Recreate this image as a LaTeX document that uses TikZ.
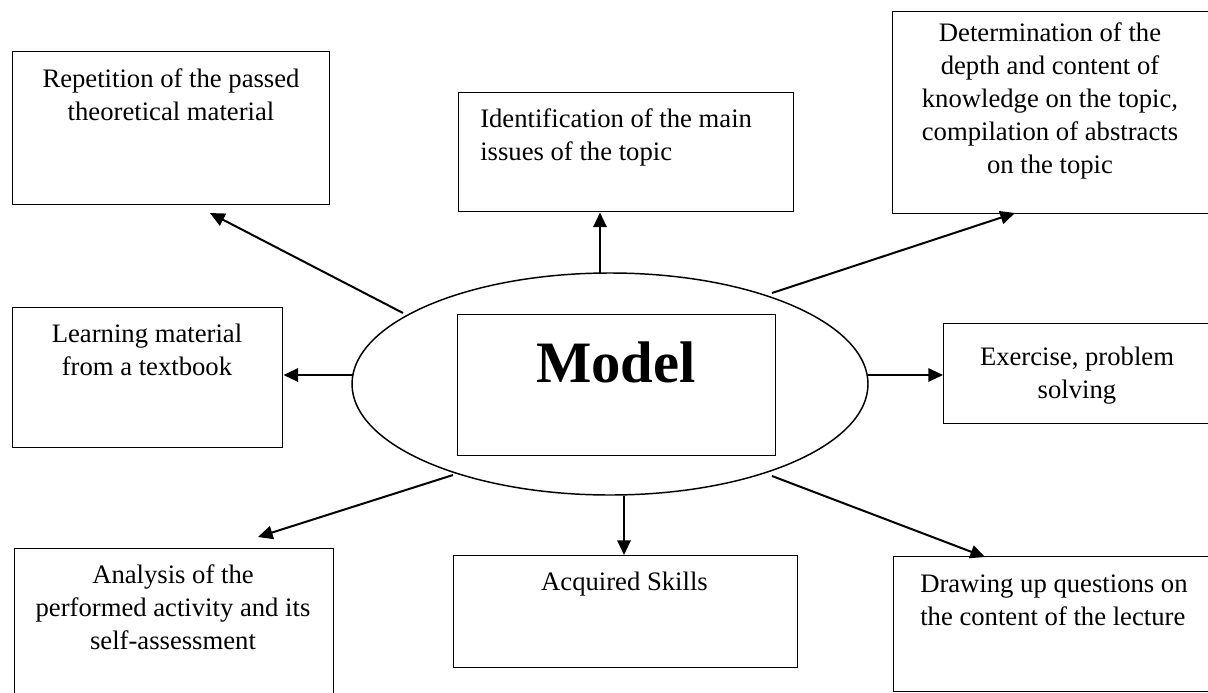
\documentclass[tikz,border=0pt]{standalone}
\usepackage{fontspec}
\setmainfont{Liberation Serif}
\usetikzlibrary{arrows.meta,shapes.geometric}
\begin{document}
\begin{tikzpicture}[x=0.75pt,y=-0.75pt,
  box/.style 2 args={draw, line width=1.1pt, inner sep=0pt, anchor=north west,
    minimum width=#1*0.75pt, minimum height=#2*0.75pt},
  txt/.style={inner sep=0pt, anchor=north, font=\fontsize{20}{24.75}\selectfont, align=center},
  ltxt/.style={inner sep=0pt, anchor=north west, font=\fontsize{20}{24.75}\selectfont, align=left},
  arr/.style={line width=1.5pt, -{Triangle[length=11pt,width=10pt]}}]
\clip (0,0) rectangle (1208,693);
% boxes
\node[box={317}{153}] (b1) at (12,51) {};
\node[box={335}{119}] (b2) at (458,92) {};
\node[box={320}{202}] (b3) at (892,11) {};
\node[box={270}{140}] (b4) at (12,307) {};
\node[box={270}{100}] (b5) at (943,323) {};
\node[box={319}{160}] (b6) at (14,548) {};
\node[box={344}{112}] (b7) at (453,555) {};
\node[box={320}{135}] (b8) at (893,556) {};
% texts
\node[txt] (t1) at (171,67) {\rule{0pt}{15pt}Repetition of the passed\\theoretical material};
\node[ltxt] (t2) at (480,107) {\rule{0pt}{15pt}Identification of the main\\issues of the topic};
\node[txt] (t3) at (1050,21) {\rule{0pt}{15pt}Determination of the\\depth and content of\\knowledge on the topic,\\compilation of abstracts\\on the topic};
\node[txt] (t4) at (147,322) {\rule{0pt}{15pt}Learning material\\from a textbook};
\node[txt] (t5) at (1077,345) {\rule{0pt}{15pt}Exercise, problem\\solving};
\node[txt] (t6) at (173,563) {\rule{0pt}{15pt}Analysis of the\\performed activity and its\\self-assessment};
\node[txt] (t7) at (624.5,570) {\rule{0pt}{15pt}Acquired Skills};
\node[ltxt] (t8) at (920,572) {\rule{0pt}{15pt}Drawing up questions on\\the content of the lecture};
% centre
\node[draw, ellipse, line width=1.1pt, minimum width=516*0.75pt, minimum height=222*0.75pt, inner sep=0pt] (ell) at (610,384) {};
\node[draw, line width=1.1pt, inner sep=0pt, anchor=north west, minimum width=318*0.75pt, minimum height=141*0.75pt] (mb) at (457,314) {};
\node[inner sep=0pt, anchor=base, font=\fontsize{44}{50}\selectfont\bfseries] (model) at (616,382) {Model};
% connector ends
\coordinate (s1) at (403,313); \coordinate (e1) at (210,213);
\coordinate (s2) at (600,273);
\coordinate (s3) at (772,293);
\coordinate (s4) at (353,375);
\coordinate (s5) at (868,375);
\coordinate (s6) at (453,475); \coordinate (e6) at (258,537);
\coordinate (s7) at (624,496);
\coordinate (s8) at (772,476);
\draw[arr] (s1) -- (e1);
\draw[arr] (s2) -- (s2 |- b2.south);
\draw[arr] (s3) -- (1015,213);
\draw[arr] (s4) -- (s4 -| b4.east);
\draw[arr] (s5) -- (s5 -| b5.west);
\draw[arr] (s6) -- (e6);
\draw[arr] (s7) -- (s7 |- b7.north);
\draw[arr] (s8) -- (985,557);
\end{tikzpicture}
\end{document}
